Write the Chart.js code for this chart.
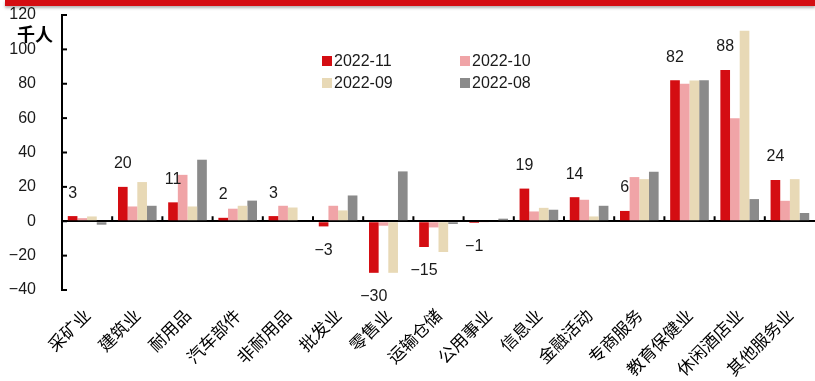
<!DOCTYPE html>
<html>
<head>
<meta charset="utf-8">
<script src="https://cdn.jsdelivr.net/npm/chart.js@4.4.0/dist/chart.umd.min.js"></script>
<style>
  html, body { margin: 0; padding: 0; background: #fff; }
  #wrap { position: relative; width: 815px; height: 381px; }
  #band { position: absolute; left: 5px; right: 0; top: 0; height: 6px; background: #D40D12; box-shadow: 0 2px 3px rgba(0,0,0,.3); z-index: 2; }
</style>
</head>
<body>
<div id="wrap">
  <div id="band"></div>
  <canvas id="myChart" width="815" height="381"></canvas>
</div>
<script>
const categories = ["采矿业", "建筑业", "耐用品", "汽车部件", "非耐用品", "批发业", "零售业", "运输仓储", "公用事业", "信息业", "金融活动", "专商服务", "教育保健业", "休闲酒店业", "其他服务业"];
const seriesNames = ["2022-11", "2022-10", "2022-09", "2022-08"];
const nov = [3, 20, 11, 2, 3, -3, -30, -15, -1, 19, 14, 6, 82, 88, 24];
const oct = [1.8, 8.6, 27, 7.3, 9, 9, -2.6, -3.6, -0.5, 5.7, 12.5, 25.7, 80, 60, 11.9];
const sep = [2.8, 22.8, 8.6, 9, 8, 6.3, -30, -17.9, 0, 7.8, 2.8, 24.5, 81.9, 110.9, 24.5];
const aug = [-2, 9, 35.8, 12, 0, 15, 29, -1.6, 1.5, 6.7, 9, 28.8, 82, 12.9, 4.8];
const yTicks = [-40, -20, 0, 20, 40, 60, 80, 100, 120];
const colors = ["#D40D12", "#F0A4A7", "#E8D9B6", "#8A8A8A"];

const LATIN = "'Liberation Sans', Arial, sans-serif";
const CJK = "'Noto Sans CJK SC', sans-serif";

function fmt(v) {
  return v < 0 ? "\u2212" + Math.abs(v) : String(v);
}

const decor = {
  id: "decor",
  afterDraw(chart) {
    const { ctx, chartArea, scales: { x, y } } = chart;
    ctx.save();
    ctx.strokeStyle = "#000";
    ctx.lineWidth = 2;

    // inward y ticks
    yTicks.forEach(t => {
      const py = y.getPixelForValue(t);
      ctx.beginPath();
      ctx.moveTo(chartArea.left, py);
      ctx.lineTo(chartArea.left + 5, py);
      ctx.stroke();
    });

    // category boundary ticks on the zero line
    const y0 = y.getPixelForValue(0);
    for (let i = 0; i < categories.length - 1; i++) {
      const px = (x.getPixelForValue(i) + x.getPixelForValue(i + 1)) / 2;
      ctx.beginPath();
      ctx.moveTo(px, y0);
      ctx.lineTo(px, y0 - 5);
      ctx.stroke();
    }

    // labels for the latest month
    ctx.fillStyle = "#1a1a1a";
    ctx.font = "16px " + LATIN;
    ctx.textAlign = "center";
    ctx.textBaseline = "middle";
    chart.getDatasetMeta(0).data.forEach((bar, i) => {
      const v = nov[i];
      ctx.fillText(fmt(v), bar.x, v >= 0 ? bar.y - 23 : bar.y + 24);
    });

    // legend, two columns
    ctx.textAlign = "left";
    chart.data.datasets.forEach((ds, i) => {
      const lx = 322 + (i % 2) * 138;
      const ly = 61 + Math.floor(i / 2) * 22;
      ctx.fillStyle = ds.backgroundColor;
      ctx.fillRect(lx, ly - 5, 10, 10);
      ctx.fillStyle = "#1a1a1a";
      ctx.fillText(ds.label, lx + 12, ly + 1);
    });

    // unit
    ctx.font = "bold 18px " + CJK;
    ctx.fillStyle = "#000";
    ctx.fillText("千人", 17, 34);
    ctx.restore();
  }
};

const ctx = document.getElementById("myChart");
new Chart(ctx, {
  type: "bar",
  data: {
    labels: categories,
    datasets: [nov, oct, sep, aug].map((d, i) => ({
      label: seriesNames[i],
      data: d,
      backgroundColor: colors[i],
      borderWidth: 0,
      categoryPercentage: 0.77,
      barPercentage: 1
    }))
  },
  options: {
    responsive: false,
    devicePixelRatio: 1,
    animation: false,
    layout: { padding: { top: 15, left: 0, right: 0, bottom: 0 } },
    plugins: { legend: { display: false }, tooltip: { enabled: false } },
    scales: {
      x: {
        grid: { display: false },
        border: { display: false },
        ticks: {
          autoSkip: false,
          maxRotation: 45,
          minRotation: 45,
          padding: 7,
          color: "#000",
          font: { family: CJK, size: 17 }
        },
        afterFit(scale) { scale.height = 91; }
      },
      y: {
        min: -40,
        max: 120,
        afterBuildTicks(scale) { scale.ticks = yTicks.map(v => ({ value: v })); },
        grid: {
          drawTicks: false,
          color: c => (c.tick && c.tick.value === 0 ? "#000" : "transparent"),
          lineWidth: 2
        },
        border: { display: true, color: "#000", width: 2 },
        ticks: {
          padding: 26,
          color: "#1a1a1a",
          font: { family: LATIN, size: 16 },
          callback: v => fmt(v)
        },
        afterFit(scale) {
          scale.width = 62;
          scale.paddingTop = 0;
          scale.paddingBottom = 0;
        }
      }
    }
  },
  plugins: [decor]
});
</script>
</body>
</html>
